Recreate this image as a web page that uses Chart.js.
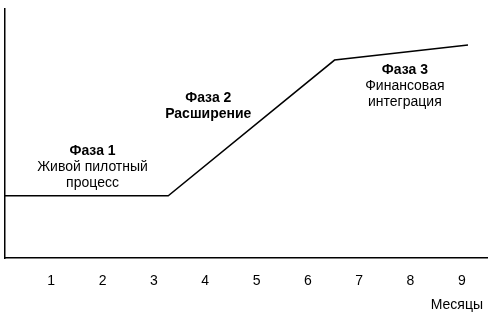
<!DOCTYPE html>
<html>
<head>
<meta charset="utf-8">
<script src="https://cdn.jsdelivr.net/npm/chart.js@4"></script>
<style>
  html, body { margin: 0; padding: 0; background: #fff; }
  #wrap { width: 499px; height: 317px; }
</style>
</head>
<body>
<div id="wrap"><canvas id="chart"></canvas></div>
<script>
// данные графика
const monthTicks = [1, 2, 3, 4, 5, 6, 7, 8, 9];
const pathX = [0.1, 3.28, 6.52, 9.12];
const pathY = [25, 25, 79.5, 85.5];

// подписи фаз: заголовок (жирный) + строки
const phaseTitles = ['Фаза 1', 'Фаза 2', 'Фаза 3'];
const phaseLines = [
    ['Живой пилотный', 'процесс'],
    ['Расширение'],
    ['Финансовая', 'интеграция']
];
const phaseBold = [1, 2, 1]; // сколько первых строк жирным
const phaseX = [1.805, 4.06, 7.89];
const phaseY = [41.4, 62.7, 73.9];

const FONT = '"Liberation Sans", Arial, sans-serif';

const phaseLabels = {
    id: 'phaseLabels',
    afterDraw(chart) {
        const c = chart.ctx;
        const xs = chart.scales.x, ys = chart.scales.y;
        c.save();
        c.fillStyle = '#000';
        c.textAlign = 'center';
        c.textBaseline = 'alphabetic';
        phaseTitles.forEach((t, i) => {
            const rows = [t].concat(phaseLines[i]);
            const px = xs.getPixelForValue(phaseX[i]);
            const py = ys.getPixelForValue(phaseY[i]);
            rows.forEach((r, j) => {
                c.font = (j < phaseBold[i] ? 'bold ' : '') + '14px ' + FONT;
                c.fillText(r, px, py + j * 16);
            });
        });
        // подпись оси
        c.font = '14px ' + FONT;
        c.textAlign = 'right';
        c.fillText('Месяцы', xs.right - 4, 309);
        c.restore();
    }
};

new Chart(document.getElementById('chart'), {
    type: 'line',
    data: {
        datasets: [{
            data: pathX.map((x, i) => ({ x: x, y: pathY[i] })),
            borderColor: '#000',
            borderWidth: 1.5,
            pointRadius: 0,
            tension: 0
        }]
    },
    options: {
        responsive: true,
        maintainAspectRatio: false,
        animation: false,
        layout: { padding: { left: 5, top: 9, right: 12, bottom: 0 } },
        plugins: { legend: { display: false }, tooltip: { enabled: false } },
        scales: {
            x: {
                type: 'linear',
                min: 0.1,
                max: 9.49,
                afterBuildTicks: s => { s.ticks = monthTicks.map(v => ({ value: v })); },
                afterFit: s => { s.height = 59; },
                grid: { display: false, drawTicks: false },
                border: { display: true, color: '#000', width: 1.5 },
                ticks: {
                    color: '#000',
                    padding: 15,
                    maxRotation: 0,
                    font: { family: FONT, size: 14 }
                }
            },
            y: {
                min: 0,
                max: 100,
                afterFit: s => { s.width = 0; },
                grid: { display: false, drawTicks: false },
                border: { display: true, color: '#000', width: 1.5 },
                ticks: { display: false }
            }
        }
    },
    plugins: [phaseLabels]
});
</script>
</body>
</html>
